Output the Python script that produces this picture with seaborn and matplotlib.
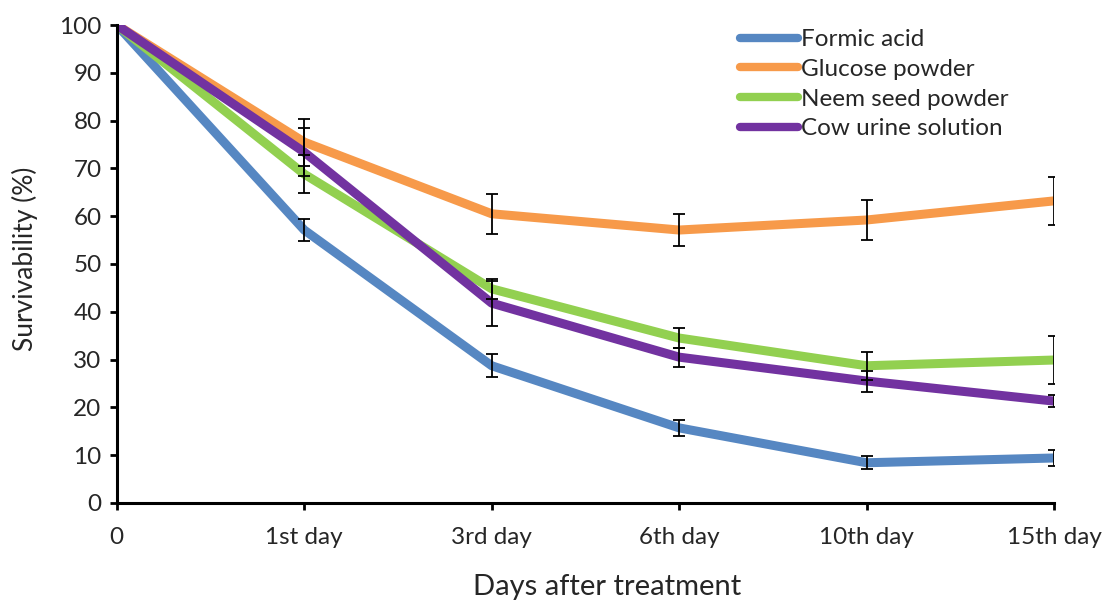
import pandas as pd
import numpy as np
import matplotlib.pyplot as plt
import seaborn as sns

# Data
days = ["0", "1st day", "3rd day", "6th day", "10th day", "15th day"]
treatments = ["Formic acid", "Glucose powder", "Neem seed powder", "Cow urine solution"]

formic = [100, 57.1, 28.7, 15.7, 8.4, 9.4]
glucose = [100, 75.5, 60.5, 57.1, 59.2, 63.2]
neem = [100, 68.8, 44.8, 34.5, 28.7, 29.9]
cow = [100, 73.4, 41.8, 30.5, 25.5, 21.3]

formic_err = [0, 2.3, 2.4, 1.7, 1.4, 1.6]
glucose_err = [0, 4.9, 4.2, 3.4, 4.1, 5.1]
neem_err = [0, 3.9, 2.1, 2.1, 2.9, 5.1]
cow_err = [0, 5.0, 4.7, 2.0, 2.2, 1.2]

colors = ["#5687C2", "#F79A4A", "#92D050", "#7232A0"]

values = [formic, glucose, neem, cow]
errors = [formic_err, glucose_err, neem_err, cow_err]

rows = []
for name, vals, errs in zip(treatments, values, errors):
    for i, (d, v, e) in enumerate(zip(days, vals, errs)):
        rows.append({"Day": d, "pos": i, "Treatment": name, "Survivability": v, "err": e})
df = pd.DataFrame(rows)

sns.set_style("white")
plt.rcParams["font.family"] = ["Lato", "DejaVu Sans"]

fig = plt.figure(figsize=(11.02, 6.03), dpi=100)
ax = fig.add_axes([0.106, 0.166, 0.8505, 0.7925])

sns.lineplot(data=df, x="pos", y="Survivability", hue="Treatment",
             hue_order=treatments, palette=colors, linewidth=6.5,
             sort=False, ax=ax, zorder=2)

# Error bars
for name in treatments:
    sub = df[df["Treatment"] == name]
    sub = sub[sub["err"] > 0]
    ax.errorbar(sub["pos"], sub["Survivability"], yerr=sub["err"], fmt="none",
                ecolor="black", elinewidth=1.3, capsize=4.5, capthick=1.3, zorder=3)

ax.set_xlim(0, len(days) - 1)
ax.set_ylim(0, 100)
ax.set_yticks(range(0, 101, 10))
ax.set_xticks(range(len(days)))
ax.set_xticklabels(days)
ax.tick_params(axis="both", labelsize=17.5, direction="out", length=5, width=2,
               color="black", left=True, bottom=True)
ax.tick_params(axis="x", pad=12)
ax.tick_params(axis="y", pad=6)

for side in ["top", "right"]:
    ax.spines[side].set_visible(False)
for side in ["left", "bottom"]:
    ax.spines[side].set_linewidth(2.2)
    ax.spines[side].set_color("black")

ax.set_xlabel("Days after treatment", fontsize=21)
ax.set_ylabel("Survivability (%)", fontsize=19)
ax.xaxis.set_label_coords(0.523, -0.148)
ax.yaxis.set_label_coords(-0.084, 0.51)

leg = ax.legend(loc="upper left", bbox_to_anchor=(740 / 1102, 1 - 29 / 603),
                bbox_transform=fig.transFigure, frameon=False, borderpad=0,
                borderaxespad=0, fontsize=17.5, handlelength=2.4,
                handletextpad=0.1, labelspacing=0.36)
for line in leg.get_lines():
    line.set_linewidth(6)
    line.set_solid_capstyle("round")

fig.savefig("out.png", dpi=100)
